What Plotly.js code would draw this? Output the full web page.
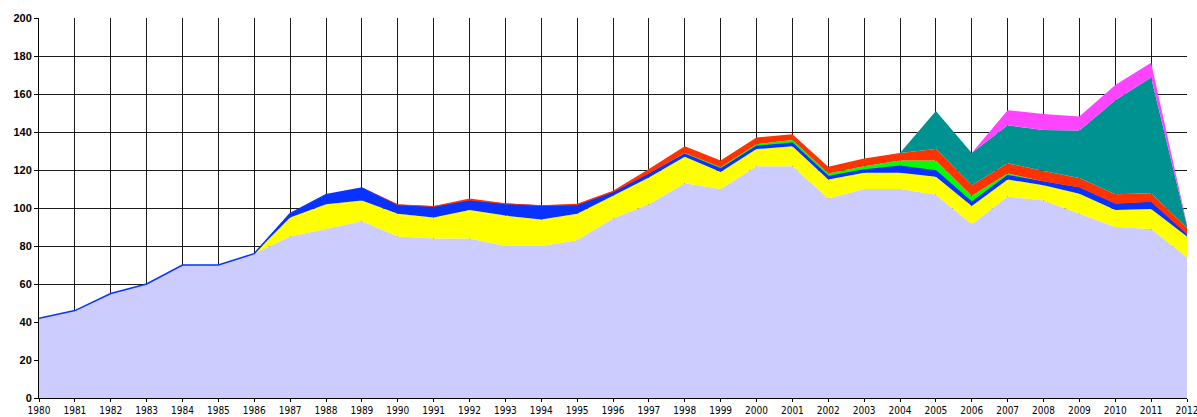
<!DOCTYPE html>
<html>
<head>
<meta charset="utf-8">
<script src="https://cdn.plot.ly/plotly-3.0.1.min.js"></script>
<style>html,body{margin:0;padding:0;background:#fff;}#chart{width:1197px;height:417px;}</style>
</head>
<body>
<div id="chart"></div>
<script>
const years = [1980,1981,1982,1983,1984,1985,1986,1987,1988,1989,1990,1991,1992,1993,1994,1995,1996,1997,1998,1999,2000,2001,2002,2003,2004,2005,2006,2007,2008,2009,2010,2011,2012];
const lavender = [42,46,55,60,70,70,76,85,89,93,85,84,84,80,80,83,94.5,102,113,110,122,122,105,110,110,107,91.5,106,104,97,90,89,74];
const yellow = [0,0,0,0,0,0,0,10,13,11,12,11,15,16,14,14,12,14,14,9,9,10.5,10,8.5,8.5,9.5,9.5,9,8,10.5,9,10.5,11];
const blue = [0,0,0,0,0,0,0,2,5,6.5,4.5,5.5,5,6,7,4.5,1.8,2,1.2,1.5,1.4,1.5,1.5,1.5,3.5,3,2,2,1.7,3,3,3.5,1];
const green = [0,0,0,0,0,0,0,0,0,0,0,0,0,0,0,0,0,0,0.8,1,1.2,1.8,1.7,2,3,5.5,3.5,1.2,0.3,0.3,0.2,0.2,0];
const red = [0,0,0,0,0,0,0,0,0,0,0.5,0.5,1,0.5,0.5,0.8,0.8,2.5,3.5,3.5,3.5,3,3.5,4,4,6,5.5,5.3,5.5,5,5,4.5,3.5];
const teal = [0,0,0,0,0,0,0,0,0,0,0,0,0,0,0,0,0,0,0,0,0,0,0,0,0,20,17,20,21.5,25,49.5,61,1.2];
const magenta = [0,0,0,0,0,0,0,0,0,0,0,0,0,0,0,0,0,0,0,0,0,0,0,0,0,0,0,8,8.5,7.3,8,7.7,0.8];
const yTicks = [0,20,40,60,80,100,120,140,160,180,200];

const series = [
  {y: lavender, color: '#CCCCFF', lw: 0},
  {y: yellow, color: '#FFFF00', lw: 0},
  {y: blue, color: '#0A32FF', lw: 1.5},
  {y: green, color: '#00FF00', lw: 0},
  {y: red, color: '#FF3300', lw: 0},
  {y: teal, color: '#009191', lw: 0},
  {y: magenta, color: '#FF44FF', lw: 0}
];

const traces = series.map(s => ({
  x: years, y: s.y, type: 'scatter', mode: 'lines',
  stackgroup: 'one', fillcolor: s.color,
  line: {color: s.color, width: s.lw, shape: 'linear'},
  hoverinfo: 'skip', showlegend: false
}));

const layout = {
  width: 1197, height: 417,
  margin: {l: 39, r: 10, t: 18, b: 19},
  paper_bgcolor: '#ffffff', plot_bgcolor: '#ffffff',
  showlegend: false,
  xaxis: {
    range: [1980, 2012], tickmode: 'array', tickvals: years, ticktext: years.map(String),
    showgrid: true, gridcolor: '#1a1a1a', gridwidth: 1,
    zeroline: false, showline: true, linecolor: '#000', linewidth: 1,
    ticks: 'outside', ticklen: 3, tickcolor: '#000',
    tickfont: {family: 'DejaVu Sans Condensed, Liberation Sans, Arial', size: 10, color: '#000'},
    tickangle: 0, ticklabeloverflow: 'allow', layer: 'below traces'
  },
  yaxis: {
    range: [0, 200], tickmode: 'array', tickvals: yTicks,
    showgrid: true, gridcolor: '#1a1a1a', gridwidth: 1,
    zeroline: false, showline: true, linecolor: '#000', linewidth: 1,
    ticks: 'outside', ticklen: 4, tickcolor: '#000',
    tickfont: {family: 'Liberation Sans, Arial', size: 11, color: '#000', weight: 'bold'},
    layer: 'below traces'
  }
};

Plotly.newPlot('chart', traces, layout, {staticPlot: true, displayModeBar: false});
</script>
</body>
</html>
